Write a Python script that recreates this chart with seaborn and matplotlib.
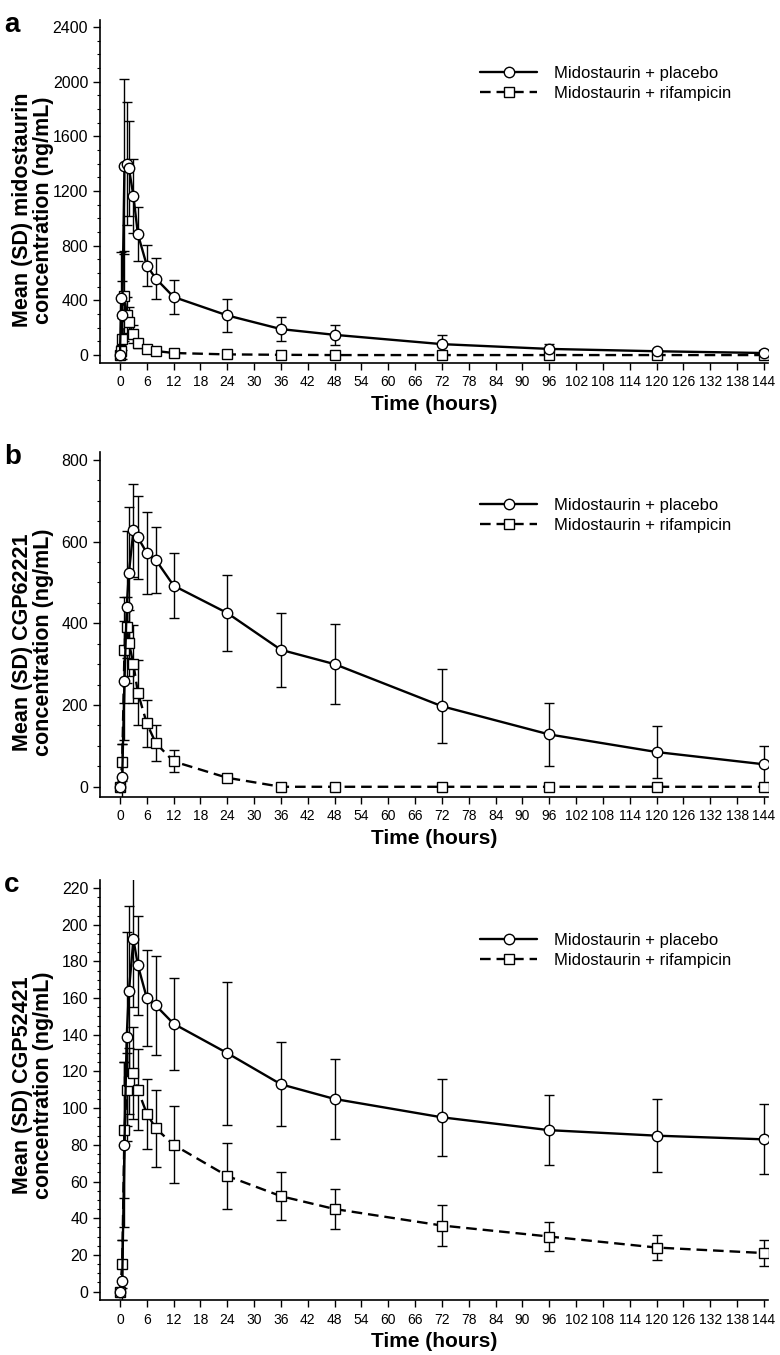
import numpy as np
import pandas as pd
import seaborn as sns
import matplotlib.pyplot as plt
from matplotlib.lines import Line2D
from matplotlib.ticker import MultipleLocator

# sampling times (hours)
time_a = [0, 0.25, 0.5, 1, 1.5, 2, 3, 4, 6, 8, 12, 24, 36, 48, 72, 96, 120, 144]
time_bc = [0, 0.5, 1, 1.5, 2, 3, 4, 6, 8, 12, 24, 36, 48, 72, 96, 120, 144]

# a: midostaurin
placebo_a = [0, 415, 290, 1380, 1400, 1365, 1165, 885, 655, 560, 425, 290, 190, 148, 80, 45, 28, 15]
placebo_a_sd = [0, 340, 250, 640, 450, 350, 270, 200, 150, 150, 125, 120, 90, 75, 65, 35, 20, 10]
rif_a = [0, 30, 120, 432, 295, 245, 155, 86, 45, 30, 15, 5, 2, 0, 0, 0, 0, 0]
rif_a_sd = [0, 40, 150, 330, 130, 110, 65, 35, 20, 15, 10, 4, 2, 0, 0, 0, 0, 0]

# b: CGP62221
placebo_b = [0, 25, 260, 440, 524, 627, 610, 572, 555, 492, 425, 335, 300, 197, 128, 85, 55]
placebo_b_sd = [0, 80, 145, 185, 160, 114, 101, 100, 81, 79, 92, 90, 98, 91, 77, 63, 45]
rif_b = [0, 60, 335, 390, 352, 300, 230, 155, 107, 62, 22, 0, 0, 0, 0, 0, 0]
rif_b_sd = [0, 45, 130, 75, 80, 95, 80, 58, 44, 27, 8, 0, 0, 0, 0, 0, 0]

# c: CGP52421
placebo_c = [0, 6, 80, 139, 164, 192, 178, 160, 156, 146, 130, 113, 105, 95, 88, 85, 83]
placebo_c_sd = [0, 22, 45, 57, 46, 37, 27, 26, 27, 25, 39, 23, 22, 21, 19, 20, 19]
rif_c = [0, 15, 88, 110, 115, 119, 110, 97, 89, 80, 63, 52, 45, 36, 30, 24, 21]
rif_c_sd = [0, 13, 37, 20, 18, 25, 22, 19, 21, 21, 18, 13, 11, 11, 8, 7, 7]

groups = ["Midostaurin + placebo", "Midostaurin + rifampicin"]
ylabels = ["Mean (SD) midostaurin\nconcentration (ng/mL)",
           "Mean (SD) CGP62221\nconcentration (ng/mL)",
           "Mean (SD) CGP52421\nconcentration (ng/mL)"]
xticks = list(range(0, 145, 6))

sns.set_style("ticks")
plt.rcParams['font.family'] = ['Liberation Sans', 'DejaVu Sans']
for k in ["text.color", "axes.labelcolor", "xtick.color", "ytick.color", "axes.edgecolor"]:
    plt.rcParams[k] = "black"

W, H = 780, 1355
fig = plt.figure(figsize=(W / 100, H / 100), dpi=100)

def px_axes(top, bottom, left=100, right=768):
    return fig.add_axes([left / W, 1 - bottom / H, (right - left) / W, (bottom - top) / H])

panels = [
    dict(t=time_a, p=placebo_a, psd=placebo_a_sd, r=rif_a, rsd=rif_a_sd,
         top=20, bottom=363, ylim=(-58, 2451), major=400, minor=100, letter="a", lab=210),
    dict(t=time_bc, p=placebo_b, psd=placebo_b_sd, r=rif_b, rsd=rif_b_sd,
         top=452, bottom=797, ylim=(-25, 819), major=200, minor=50, letter="b", lab=642),
    dict(t=time_bc, p=placebo_c, psd=placebo_c_sd, r=rif_c, rsd=rif_c_sd,
         top=880, bottom=1300, ylim=(-4.6, 224.4), major=20, minor=5, letter="c", lab=1085),
]

for i, pn in enumerate(panels):
    ax = px_axes(pn["top"], pn["bottom"])
    df = pd.DataFrame({
        "time": pn["t"] + pn["t"],
        "conc": pn["p"] + pn["r"],
        "group": [groups[0]] * len(pn["t"]) + [groups[1]] * len(pn["t"]),
    })
    ax.errorbar(pn["t"], pn["r"], yerr=pn["rsd"], fmt="none", ecolor="black",
                elinewidth=1, capsize=3.5, capthick=1, zorder=1)
    ax.errorbar(pn["t"], pn["p"], yerr=pn["psd"], fmt="none", ecolor="black",
                elinewidth=1, capsize=3.5, capthick=1, zorder=1)
    sns.lineplot(data=df, x="time", y="conc", style="group", style_order=groups[::-1],
                 markers={groups[0]: "o", groups[1]: "s"},
                 dashes={groups[0]: "", groups[1]: (4.5, 2.5)},
                 color="black", linewidth=1.7, markersize=7.5,
                 markerfacecolor="white", markeredgecolor="black", markeredgewidth=1,
                 legend=False, ax=ax, zorder=3)

    ax.set_xlim(-4.47, 144.9)
    ax.set_xticks(xticks)
    ax.yaxis.set_major_locator(MultipleLocator(pn["major"]))
    ax.yaxis.set_minor_locator(MultipleLocator(pn["minor"]))
    ax.set_ylim(*pn["ylim"])
    ax.tick_params(axis="x", labelsize=10, length=5, width=1, pad=4)
    ax.tick_params(axis="y", which="major", labelsize=11.5, length=5, width=1)
    ax.tick_params(axis="y", which="minor", length=2.5, width=0.8)
    for s in ["left", "bottom"]:
        ax.spines[s].set_linewidth(1.2)
    sns.despine(ax=ax)
    ax.set_xlabel("Time (hours)", fontsize=15, fontweight="bold", labelpad=4)
    ax.set_ylabel("")

    fig.text(33 / W, 1 - pn["lab"] / H, ylabels[i], rotation=90, ha="center", va="center",
             multialignment="center", fontsize=15.5, fontweight="bold", linespacing=1.05)
    fig.text(4 / W, 1 - (pn["top"] - 8) / H, pn["letter"], ha="left", va="top",
             fontsize=20, fontweight="bold")

    handles = [
        Line2D([], [], color="black", lw=1.7, marker="o", ms=7.5, mfc="white", mec="black"),
        Line2D([], [], color="black", lw=1.7, ls=(0, (4.5, 2.5)), marker="s", ms=7.5,
               mfc="white", mec="black"),
    ]
    ax.legend(handles, groups, loc="upper right", bbox_to_anchor=(0.967, 0.91),
              frameon=False, fontsize=12, handlelength=3.4, handletextpad=1.0,
              labelspacing=0.3)

fig.savefig("out.png", dpi=100)
